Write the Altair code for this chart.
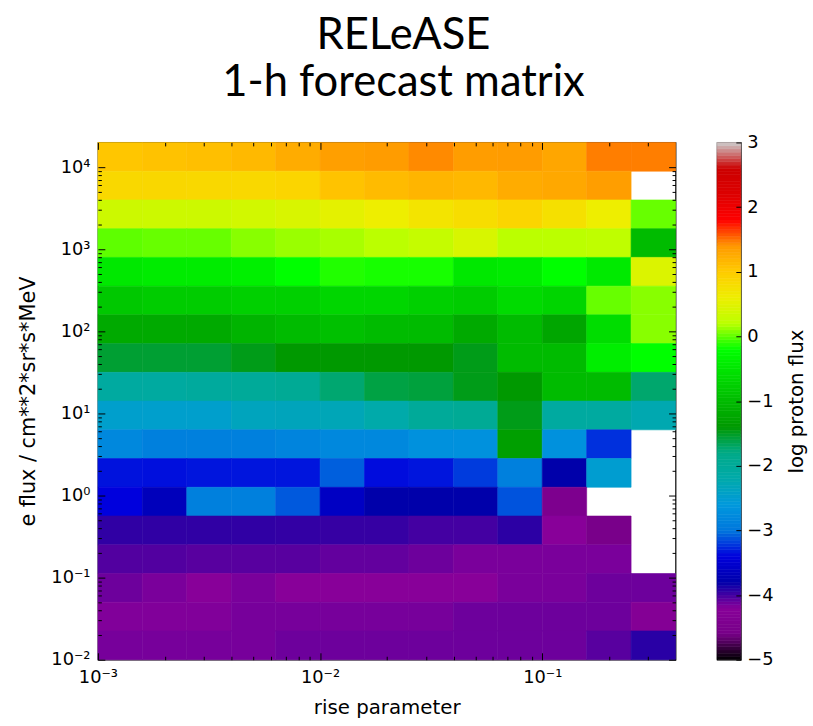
import altair as alt
import pandas as pd

TITLE = ["RELeASE", "1-h forecast matrix"]
X_LABEL = "rise parameter"
Y_LABEL = "e flux / cm**2*sr*s*MeV"
CBAR_LABEL = "log proton flux"

# bin edges, in log10 units
rise_edges_log = [-3.0, -2.8, -2.6, -2.4, -2.2, -2.0, -1.8, -1.6, -1.4, -1.2, -1.0, -0.8, -0.6, -0.4]
# electron flux bin edges, top to bottom
eflux_edges_log = [4.3, 3.95, 3.6, 3.25, 2.9, 2.55, 2.2, 1.85, 1.5, 1.15, 0.8, 0.45,
                   0.1, -0.25, -0.6, -0.95, -1.3, -1.65, -2.0]

# log proton flux per cell, rows from top (highest e flux) to bottom; None = empty cell
row_01 = [1.05, 1.08, 1.10, 1.15, 1.25, 1.35, 1.38, 1.44, 1.37, 1.38, 1.30, 1.47, 1.47]
row_02 = [0.86, 0.87, 0.86, 0.86, 0.90, 1.07, 1.13, 1.18, 1.16, 1.25, 1.28, 1.36, None]
row_03 = [0.33, 0.33, 0.33, 0.37, 0.43, 0.52, 0.60, 0.72, 0.80, 0.90, 0.76, 0.60, 0.02]
row_04 = [0.00, 0.02, 0.02, 0.09, 0.13, 0.16, 0.20, 0.28, 0.42, 0.20, 0.20, 0.23, -1.00]
row_05 = [-0.47, -0.42, -0.42, -0.38, -0.20, -0.13, -0.15, -0.15, -0.47, -0.42, -0.20, -0.45, 0.45]
row_06 = [-0.85, -0.80, -0.80, -0.75, -0.75, -0.68, -0.68, -0.75, -0.80, -0.62, -0.70, 0.02, 0.09]
row_07 = [-1.20, -1.20, -1.20, -1.08, -1.00, -0.94, -1.00, -1.00, -1.20, -1.00, -1.25, -0.60, 0.09]
row_08 = [-1.55, -1.55, -1.55, -1.47, -1.40, -1.40, -1.40, -1.40, -1.47, -1.00, -1.00, -0.40, -0.20]
row_09 = [-2.08, -2.08, -2.05, -2.00, -1.95, -1.73, -1.60, -1.58, -1.47, -1.40, -1.00, -1.00, -1.72]
row_10 = [-2.47, -2.47, -2.47, -2.35, -2.33, -2.30, -2.20, -2.00, -1.95, -1.47, -2.08, -2.08, -2.25]
row_11 = [-2.80, -2.90, -2.90, -2.90, -2.85, -2.80, -2.80, -2.70, -2.70, -1.33, -2.70, -3.24, None]
row_12 = [-3.34, -3.35, -3.33, -3.33, -3.33, -3.08, -3.36, -3.33, -3.20, -2.90, -3.80, -2.50, None]
row_13 = [-3.40, -3.67, -2.90, -2.90, -3.10, -3.60, -3.80, -3.80, -3.80, -3.12, -4.45, None, None]
row_14 = [-3.94, -3.94, -3.94, -3.94, -3.95, -3.96, -3.96, -4.00, -4.00, -3.93, -4.20, -4.55, None]
row_15 = [-4.04, -4.04, -4.06, -4.06, -4.06, -4.09, -4.09, -4.12, -4.16, -4.16, -4.16, -4.16, None]
row_16 = [-4.12, -4.16, -4.20, -4.16, -4.20, -4.20, -4.20, -4.20, -4.20, -4.16, -4.16, -4.12, -4.12]
row_17 = [-4.18, -4.18, -4.18, -4.15, -4.15, -4.15, -4.15, -4.15, -4.12, -4.12, -4.12, -4.12, -4.30]
row_18 = [-4.15, -4.15, -4.15, -4.15, -4.12, -4.12, -4.12, -4.12, -4.12, -4.12, -4.12, -4.06, -3.92]

# nipy_spectral colour map, stops in log proton flux
cmap_stops = [-5.0, -4.6, -4.2, -3.8, -3.4, -3.0, -2.6, -2.2, -1.8, -1.4, -1.0,
              -0.6, -0.2, 0.2, 0.6, 1.0, 1.4, 1.8, 2.2, 2.6, 3.0]
cmap_colors = ["#000000", "#770088", "#880099", "#0000aa", "#0000dd", "#0077dd",
               "#0099dd", "#00aaaa", "#00aa88", "#009900", "#00bb00", "#00dd00",
               "#00ff00", "#bbff00", "#eeee00", "#ffcc00", "#ff9900", "#ff0000",
               "#dd0000", "#cc0000", "#cccccc"]

# tick marks
x_major = [1e-3, 1e-2, 1e-1]
x_major_labels = ["10\u207b\u00b3", "10\u207b\u00b2", "10\u207b\u00b9"]
x_minor = [2e-3, 3e-3, 4e-3, 5e-3, 6e-3, 7e-3, 8e-3, 9e-3,
           2e-2, 3e-2, 4e-2, 5e-2, 6e-2, 7e-2, 8e-2, 9e-2, 2e-1, 3e-1]
y_major = [1e-2, 1e-1, 1e0, 1e1, 1e2, 1e3, 1e4]
y_major_labels = ["10\u207b\u00b2", "10\u207b\u00b9", "10\u2070", "10\u00b9",
                  "10\u00b2", "10\u00b3", "10\u2074"]
y_minor = [k * 10.0 ** e for e in range(-2, 5) for k in range(2, 10) if k * 10.0 ** e < 10 ** 4.3]
cbar_ticks = [-5, -4, -3, -2, -1, 0, 1, 2, 3]
cbar_levels = [round(-5 + 0.05 * i, 2) for i in range(160)]

# ---------------------------------------------------------------- tables
rows = [row_01, row_02, row_03, row_04, row_05, row_06, row_07, row_08, row_09,
        row_10, row_11, row_12, row_13, row_14, row_15, row_16, row_17, row_18]
recs = []
for r, vals in enumerate(rows):
    for c, v in enumerate(vals):
        if v is None:
            continue
        recs.append({
            "x0": 10 ** rise_edges_log[c], "x1": 10 ** rise_edges_log[c + 1],
            "y0": 10 ** eflux_edges_log[r + 1], "y1": 10 ** eflux_edges_log[r],
            "v": v,
        })
heat_df = pd.DataFrame(recs)
cbar_df = pd.DataFrame({"lo": cbar_levels,
                        "hi": [round(v + 0.05, 2) for v in cbar_levels],
                        "mid": [round(v + 0.025, 3) for v in cbar_levels]})


def label_expr(vals, labels):
    expr = "'" + labels[-1] + "'"
    for v, lab in reversed(list(zip(vals[:-1], labels[:-1]))):
        expr = "datum.value < %g ? '%s' : (%s)" % (v * 3.1623, lab, expr)
    return expr


cscale = alt.Scale(domain=cmap_stops, range=cmap_colors, interpolate="rgb", clamp=True)
xscale = alt.Scale(type="log", domain=[10 ** rise_edges_log[0], 10 ** rise_edges_log[-1]], nice=False)
yscale = alt.Scale(type="log", domain=[10 ** eflux_edges_log[-1], 10 ** eflux_edges_log[0]], nice=False)

MAJ = 7
MIN = 3.5

common = dict(grid=False, domain=False, tickColor="black", tickWidth=1, zindex=2)


def xaxis(orient, values, size, labels=False, title=None):
    kw = dict(orient=orient, values=values, tickSize=size, offset=-size, **common)
    if labels:
        kw.update(labelExpr=label_expr(x_major, x_major_labels), labelFlush=False,
                  labelOverlap=False, labelPadding=9, title=title, titlePadding=11)
    else:
        kw.update(labels=False, title=None)
    return alt.Axis(**kw)


def yaxis(orient, values, size, labels=False, title=None):
    kw = dict(orient=orient, values=values, tickSize=size, offset=-size, **common)
    if labels:
        kw.update(labelExpr=label_expr(y_major, y_major_labels), labelFlush=False,
                  labelOverlap=False, labelPadding=8, title=title, titlePadding=12,
                  titleFontSize=21)
    else:
        kw.update(labels=False, title=None)
    return alt.Axis(**kw)


base = alt.Chart(heat_df)

cells = base.mark_rect(strokeWidth=0.6).encode(
    x=alt.X("x0:Q", scale=xscale, axis=xaxis("bottom", x_major, MAJ, True, X_LABEL)),
    x2="x1:Q",
    y=alt.Y("y0:Q", scale=yscale, axis=yaxis("left", y_major, MAJ, True, Y_LABEL)),
    y2="y1:Q",
    color=alt.Color("v:Q", scale=cscale, legend=None),
    stroke=alt.Color("v:Q", scale=cscale, legend=None),
)
minor_bl = base.mark_rect(opacity=0).encode(
    x=alt.X("x0:Q", scale=xscale, axis=xaxis("bottom", x_minor, MIN)), x2="x1:Q",
    y=alt.Y("y0:Q", scale=yscale, axis=yaxis("left", y_minor, MIN)), y2="y1:Q",
)
major_tr = base.mark_rect(opacity=0).encode(
    x=alt.X("x0:Q", scale=xscale, axis=xaxis("top", x_major, MAJ)), x2="x1:Q",
    y=alt.Y("y0:Q", scale=yscale, axis=yaxis("right", y_major, MAJ)), y2="y1:Q",
)
minor_tr = base.mark_rect(opacity=0).encode(
    x=alt.X("x0:Q", scale=xscale, axis=xaxis("top", x_minor, MIN)), x2="x1:Q",
    y=alt.Y("y0:Q", scale=yscale, axis=yaxis("right", y_minor, MIN)), y2="y1:Q",
)

heat = alt.layer(cells, minor_bl, major_tr, minor_tr).resolve_axis(
    x="independent", y="independent"
).properties(width=584, height=523)

cbar = alt.Chart(cbar_df).mark_rect(strokeWidth=0.6).encode(
    y=alt.Y("lo:Q", scale=alt.Scale(domain=[-5, 3], nice=False, zero=False),
            axis=alt.Axis(orient="right", values=cbar_ticks, tickSize=5, offset=-5,
                          labelExpr="datum.value < 0 ? '\u2212' + abs(datum.value) : '' + datum.value",
                          labelPadding=6, labelFlush=False, labelOverlap=False,
                          title=CBAR_LABEL, titleAngle=270, titleBaseline="bottom",
                          titlePadding=34, **common)),
    y2="hi:Q",
    color=alt.Color("mid:Q", scale=cscale, legend=None),
    stroke=alt.Color("mid:Q", scale=cscale, legend=None),
).properties(width=24, height=523)

chart = alt.hconcat(heat, cbar, spacing=39).properties(
    title=alt.TitleParams(text=TITLE, font="Lato", fontSize=44, fontWeight="normal",
                          color="black", anchor="middle", lineHeight=48, offset=28, dx=-9),
    padding={"left": 17, "top": 10, "right": 5, "bottom": 5},
).configure_axis(
    labelFont="DejaVu Sans", titleFont="DejaVu Sans", labelFontSize=18,
    titleFontSize=20, labelColor="black", titleColor="black", titleFontWeight="normal",
).configure_view(stroke="black", strokeWidth=1.2)

chart.save("out.html", embed_options={"renderer": "svg", "actions": False})
